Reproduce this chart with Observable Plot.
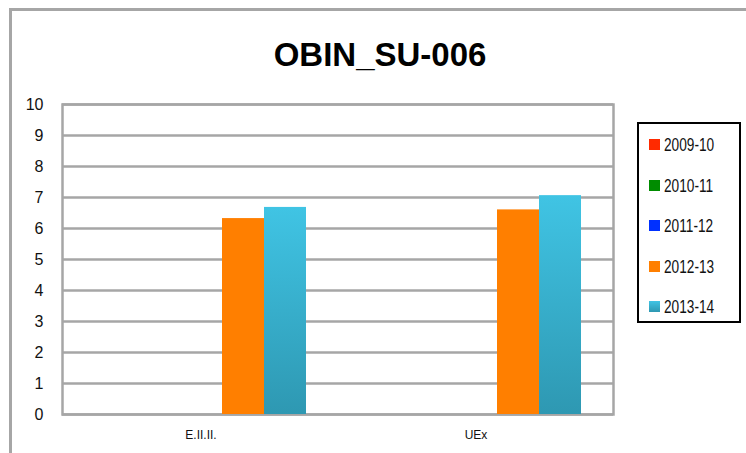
<!DOCTYPE html>
<html>
<head>
<meta charset="utf-8">
<script src="https://cdn.jsdelivr.net/npm/d3@7"></script>
<script src="https://cdn.jsdelivr.net/npm/@observablehq/plot@0.6"></script>
<style>
  html, body { margin: 0; padding: 0; background: #fff; }
  #wrap { position: relative; width: 746px; height: 453px; overflow: hidden; font-family: "Liberation Sans", Arial, sans-serif; }
  #border { position: absolute; left: 9px; top: 8px; width: 800px; height: 500px; border-top: 3px solid #a6a6a6; border-left: 3px solid #a6a6a6; box-sizing: border-box; }
  #title { position: absolute; left: 0; width: 760px; top: 36px; text-align: center; font-weight: bold; font-size: 33px; color: #000; }
  .layer { position: absolute; left: 0; top: 0; }
  #legend { position: absolute; left: 637px; top: 122px; width: 104px; height: 201px; border: 2px solid #000; box-sizing: border-box; background: #fff; }
  .item { position: absolute; left: 10px; font-size: 18px; color: #111; line-height: 1; white-space: nowrap; }
  .sw { display: inline-block; width: 11px; height: 11px; margin-right: 4px; vertical-align: 1px; }
  .lbl { display: inline-block; transform: scaleX(0.76); transform-origin: left center; }
</style>
</head>
<body>
<div id="wrap">
  <div id="border"></div>
  <div id="base" class="layer"></div>
  <div id="bars" class="layer"></div>
  <div id="title">OBIN_SU-006</div>
  <div id="legend"></div>
</div>
<script>
const categories = ["E.II.II.", "UEx"];
const series = ["2009-10", "2010-11", "2011-12", "2012-13", "2013-14"];
const v2009_10 = [null, null];
const v2010_11 = [null, null];
const v2011_12 = [null, null];
const v2012_13 = [6.32, 6.60];
const v2013_14 = [6.68, 7.06];
const yTicks = [0, 1, 2, 3, 4, 5, 6, 7, 8, 9, 10];
const colors = ["#ff2a00", "#008c00", "#0030ff", "#ff7f00", "url(#cyanGrad)"];
const legendColors = ["#ff2a00", "#008c00", "#0030ff", "#ff7f00", "linear-gradient(#40c4e4, #2e98b2)"];

const seriesValues = [v2009_10, v2010_11, v2011_12, v2012_13, v2013_14];
const data = [];
series.forEach((s, si) => {
  categories.forEach((c, ci) => {
    const v = seriesValues[si][ci];
    if (v != null) data.push({category: c, series: s, value: v});
  });
});

const dims = {width: 746, height: 453, marginLeft: 62, marginRight: 133, marginTop: 104, marginBottom: 39};
const font = "'Liberation Sans',Arial,sans-serif";

// Base layer: grid, frame, axes
const base = Plot.plot({
  ...dims,
  style: {background: "transparent", fontFamily: font},
  x: {type: "band", domain: categories, padding: 0, label: null},
  y: {domain: [0, 10], label: null},
  marks: [
    Plot.gridY(yTicks, {stroke: "#a6a6a6", strokeOpacity: 1, strokeWidth: 2.5}),
    Plot.frame({stroke: "#a6a6a6", strokeWidth: 2.5}),
    Plot.axisY(yTicks, {tickSize: 0, tickPadding: 19, fontSize: 16, label: null, fill: "#111"}),
    Plot.axisX({tickSize: 0, tickPadding: 16, fontSize: 12, label: null, fill: "#111"})
  ]
});
document.getElementById("base").appendChild(base);

// Bars layer: grouped bars via facets
const bars = Plot.plot({
  ...dims,
  style: {background: "transparent", fontFamily: font},
  fx: {domain: categories, padding: 0, axis: null, label: null},
  x: {domain: series, paddingInner: 0, paddingOuter: 0.7, axis: null},
  y: {domain: [0, 10], axis: null},
  color: {domain: series, range: colors},
  marks: [
    Plot.barY(data, {fx: "category", x: "series", y: "value", fill: "series", insetLeft: 0, insetRight: 0})
  ]
});
const defs = d3.create("svg:defs");
const g = defs.append("linearGradient").attr("id", "cyanGrad").attr("x1", 0).attr("y1", 0).attr("x2", 0).attr("y2", 1);
g.append("stop").attr("offset", "0%").attr("stop-color", "#40c4e4");
g.append("stop").attr("offset", "100%").attr("stop-color", "#2e98b2");
bars.insertBefore(defs.node(), bars.firstChild);
document.getElementById("bars").appendChild(bars);

const legend = document.getElementById("legend");
series.forEach((s, i) => {
  const d = document.createElement("div");
  d.className = "item";
  d.style.top = (12 + i * 40.5) + "px";
  const sw = document.createElement("span");
  sw.className = "sw";
  sw.style.background = legendColors[i];
  d.appendChild(sw);
  const t = document.createElement("span");
  t.className = "lbl";
  t.textContent = s;
  d.appendChild(t);
  legend.appendChild(d);
});
</script>
</body>
</html>
